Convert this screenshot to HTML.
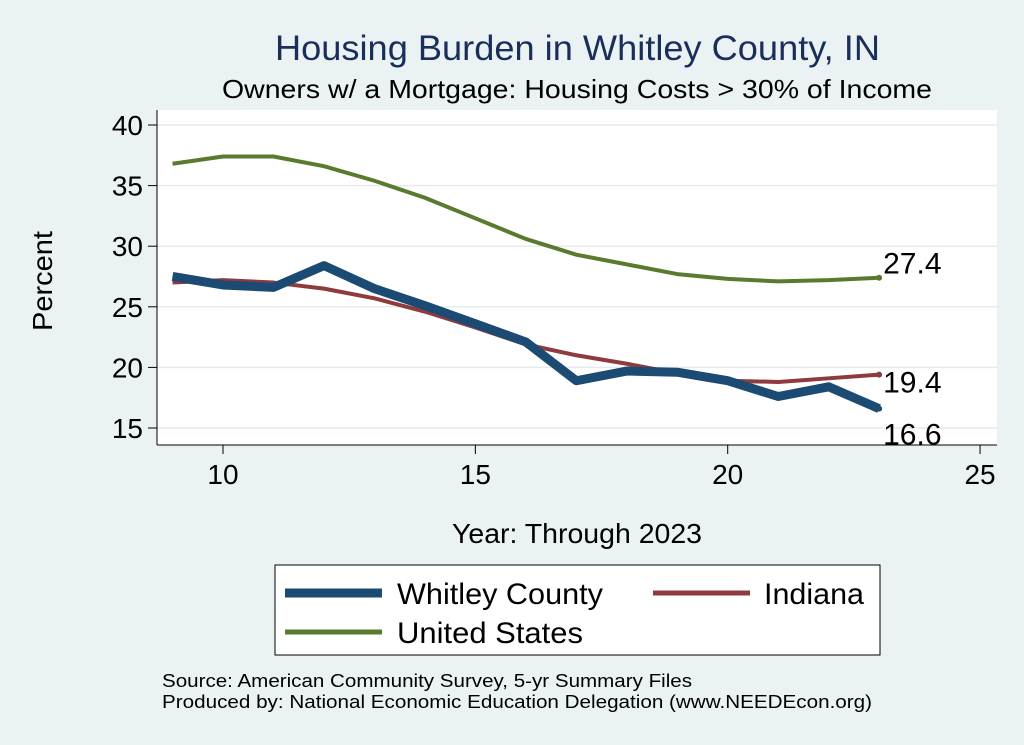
<!DOCTYPE html>
<html><head><meta charset="utf-8"><style>
body{margin:0;background:#eaf2f3;font-family:"Liberation Sans",sans-serif;}
svg{display:block}
</style></head><body>
<svg width="1024" height="745" font-family="Liberation Sans, sans-serif">
<rect x="0" y="0" width="1024" height="745" fill="#eaf2f3"/>
<text x="275" y="60" font-size="35" fill="#1a2e5a" textLength="605" lengthAdjust="spacingAndGlyphs">Housing Burden in Whitley County, IN</text>
<text x="222" y="98" font-size="26" fill="#000" textLength="710" lengthAdjust="spacingAndGlyphs">Owners w/ a Mortgage: Housing Costs &gt; 30% of Income</text>
<rect x="157" y="110" width="840" height="335" fill="#fff"/>
<g id="grid"></g>
<g id="axes"></g>
<g id="series"></g>
<text transform="translate(52,281) rotate(-90)" text-anchor="middle" font-size="28" textLength="100" lengthAdjust="spacingAndGlyphs">Percent</text>
<text x="452" y="543" font-size="28" textLength="250" lengthAdjust="spacingAndGlyphs">Year: Through 2023</text>
<g>
<rect x="275" y="565" width="605" height="90" fill="#fff" stroke="#000" stroke-width="1"/>
<g><line x1="285" y1="593" x2="382" y2="593" stroke="#1b4a72" stroke-width="9"/><text x="397" y="604" font-size="30" textLength="206" lengthAdjust="spacingAndGlyphs">Whitley County</text></g>
<g><line x1="653" y1="593" x2="750" y2="593" stroke="#8f3a3c" stroke-width="5"/><text x="764" y="604" font-size="30" textLength="100" lengthAdjust="spacingAndGlyphs">Indiana</text></g>
<g><line x1="285" y1="632" x2="382" y2="632" stroke="#5a7a2e" stroke-width="5"/><text x="397" y="643" font-size="30" textLength="186" lengthAdjust="spacingAndGlyphs">United States</text></g>
</g>
<text x="162" y="687" font-size="18" textLength="530" lengthAdjust="spacingAndGlyphs">Source: American Community Survey, 5-yr Summary Files</text>
<text x="162" y="708" font-size="18" textLength="710" lengthAdjust="spacingAndGlyphs">Produced by: National Economic Education Delegation (www.NEEDEcon.org)</text>
</svg>
<script>
const years=[9,10,11,12,13,14,15,16,17,18,19,20,21,22,23];
const whitley=[27.5,26.8,26.6,28.4,26.5,25.1,23.6,22.1,18.9,19.7,19.6,18.9,17.6,18.4,16.6];
const indiana=[27.0,27.2,27.0,26.5,25.7,24.6,23.3,21.9,21.0,20.3,19.5,18.9,18.8,19.1,19.4];
const us=[36.8,37.4,37.4,36.6,35.4,34.0,32.3,30.6,29.3,28.5,27.7,27.3,27.1,27.2,27.4];
const xTicks=[10,15,20,25];
const yTicks=[15,20,25,30,35,40];
const NS="http://www.w3.org/2000/svg";
function X(v){return 223+(v-10)*50.47;}
function Y(v){return 428-(v-15)*12.12;}
function mk(tag,attrs,parent,txt){const e=document.createElementNS(NS,tag);for(const k in attrs)e.setAttribute(k,attrs[k]);if(txt!==undefined)e.textContent=txt;document.getElementById(parent).appendChild(e);return e;}
yTicks.forEach(t=>{
 const g=mk('line',{x1:157,x2:997,y1:Y(t),y2:Y(t),stroke:'#e6ecee','stroke-width':1.5},'grid');
 
 
 const tk=mk('line',{x1:148,x2:157,y1:Y(t),y2:Y(t),stroke:'#000'},'axes');
 
 
 const l=mk('text',{x:143,y:Y(t)+10,'text-anchor':'end','font-size':28},'axes',String(t));
 
 
});
xTicks.forEach(t=>{
 const tk=mk('line',{x1:X(t),x2:X(t),y1:445,y2:454,stroke:'#000'},'axes');
 
 
 const l=mk('text',{x:X(t),y:484,'text-anchor':'middle','font-size':28},'axes',String(t));
 
 
});
const ya=mk('line',{x1:157,x2:157,y1:110,y2:445,stroke:'#000'},'axes');


const xa=mk('line',{x1:157,x2:997,y1:445,y2:445,stroke:'#000'},'axes');


function line(vals,color,w,name,dy){
 const p=mk('polyline',{points:vals.map((v,i)=>X(years[i])+','+Y(v)).join(' '),fill:'none',stroke:color,'stroke-width':w,'stroke-linejoin':'round'},'series');
 
 
 const last=vals[vals.length-1];
 const c=mk('circle',{cx:X(years[years.length-1]),cy:Y(last),r:3,fill:color},'series');
 
 
 const t=mk('text',{x:X(years[years.length-1])+4,y:Y(last)+dy,'font-size':30},'series',last.toFixed(1));
 
 
}
line(us,'#5a7a2e',4,'us-line',-4);
line(indiana,'#8f3a3c',4,'indiana-line',18);
line(whitley,'#1b4a72',9,'whitley-line',36);
</script>
</body></html>
